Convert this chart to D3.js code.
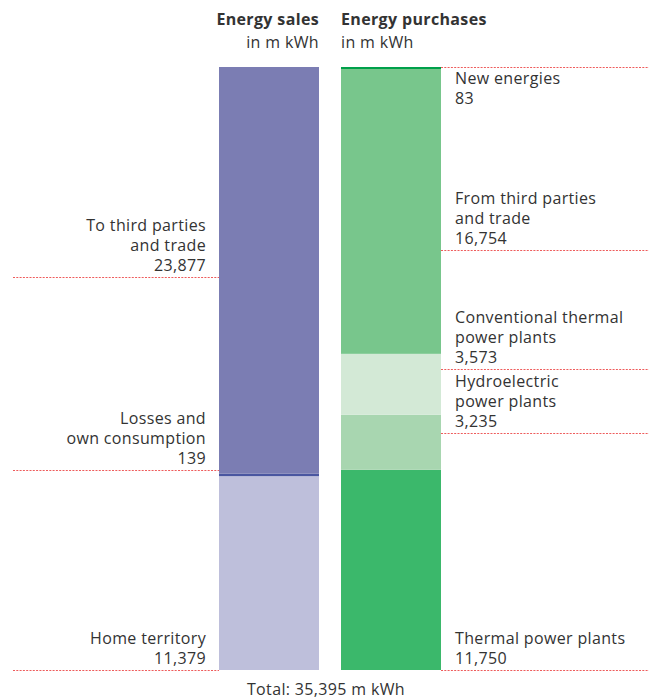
<!DOCTYPE html>
<html>
<head>
<meta charset="utf-8">
<script src="https://cdn.jsdelivr.net/npm/d3@7"></script>
<style>
body { margin: 0; background: #fff; }
text { font-family: "Open Sans", Lato, sans-serif; fill: #333; font-size: 16px; letter-spacing: 0.35px; }
</style>
</head>
<body>
<div id="chart"></div>
<script>
// datos en millones de kWh
var columnas = ["Energy sales", "Energy purchases"];
var ventas = ["Home territory", "Losses and\nown consumption", "To third parties\nand trade"];
var valoresVentas = [11379, 139, 23877];
var compras = ["Thermal power plants", "Hydroelectric\npower plants", "Conventional thermal\npower plants", "From third parties\nand trade", "New energies"];
var valoresCompras = [11750, 3235, 3573, 16754, 83];
var total = 35395;

var coloresVentas = ["#bebfdb", "#4a56a0", "#7b7db3"];
var coloresCompras = ["#3bb86b", "#a8d6b0", "#d3e9d6", "#78c68c", "#00a04a"];

var w = 649;
var h = 700;
var fmt = d3.format(",");

var svg = d3.select('#chart')
	.append('svg')
	.attr("width", w)
	.attr("height", h);

var x = d3.scaleBand()
	.domain(columnas)
	.range([219, 441])
	.paddingInner(22 / 122);

var y = d3.scaleLinear()
	.domain([0, total])
	.range([670, 67]);

function apilar(valores) {
	var acum = 0;
	return valores.map(function (v, i) {
		var d = { i: i, v: v, y0: acum, y1: acum + v };
		acum += v;
		return d;
	});
}

var pilaVentas = apilar(valoresVentas);
var pilaCompras = apilar(valoresCompras);

function barras(pila, col, colores) {
	svg.append("g").selectAll("rect")
		.data(pila)
		.enter()
		.append("rect")
		.attr("x", x(col))
		.attr("width", x.bandwidth())
		.attr("y", function (d) { return y(d.y1); })
		.attr("height", function (d) { return Math.max(y(d.y0) - y(d.y1), 2); })
		.style("fill", function (d) { return colores[d.i]; });
}

barras(pilaVentas, columnas[0], coloresVentas);
barras(pilaCompras, columnas[1], coloresCompras);

// encabezados
var xIzq = x(columnas[0]) + x.bandwidth();
var xDer = x(columnas[1]);
svg.append("text").attr("x", xIzq).attr("y", 25).attr("text-anchor", "end")
	.style("font-weight", "bold").text(columnas[0]);
svg.append("text").attr("x", xIzq).attr("y", 48).attr("text-anchor", "end")
	.text("in m kWh");
svg.append("text").attr("x", xDer).attr("y", 25)
	.style("font-weight", "bold").text(columnas[1]);
svg.append("text").attr("x", xDer).attr("y", 48)
	.text("in m kWh");

// etiquetas: altura de la linea punteada (px)
var posVentas = [670, 470, 277];
var posCompras = [670, 433, 369, 250, 67];

function etiquetas(nombres, valores, pos, lado) {
	var x1 = lado == "izq" ? 13 : x(columnas[1]) + x.bandwidth();
	var x2 = lado == "izq" ? x(columnas[0]) : w;
	var tx = lado == "izq" ? 206 : 455;
	nombres.forEach(function (n, i) {
		var ly = pos[i];
		svg.append("line")
			.attr("x1", x1).attr("x2", x2)
			.attr("y1", ly + 0.5).attr("y2", ly + 0.5)
			.style("stroke", "#ee5c5c")
			.style("stroke-width", 1)
			.style("stroke-dasharray", "2,1.3");
		var lineas = n.split("\n").concat([fmt(valores[i])]);
		var base = ly == 67 ? ly + 17 : ly - 6 - (lineas.length - 1) * 20;
		var t = svg.append("text")
			.attr("text-anchor", lado == "izq" ? "end" : "start");
		lineas.forEach(function (l, j) {
			t.append("tspan").attr("x", tx).attr("y", base + j * 20).text(l);
		});
	});
}

etiquetas(ventas, valoresVentas, posVentas, "izq");
etiquetas(compras, valoresCompras, posCompras, "der");

svg.append("text")
	.attr("x", 326).attr("y", 695)
	.attr("text-anchor", "middle")
	.text("Total: " + fmt(total) + " m kWh");
</script>
</body>
</html>
